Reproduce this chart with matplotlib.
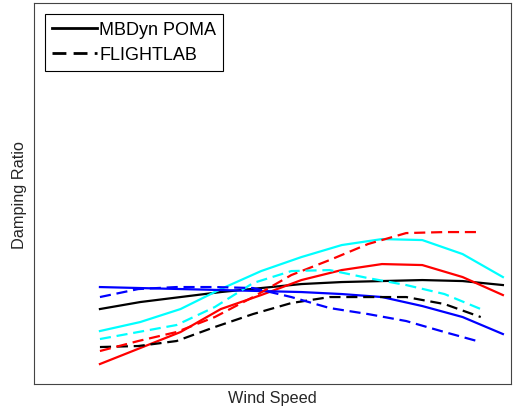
import numpy as np
import matplotlib
matplotlib.use("Agg")
import matplotlib.pyplot as plt

plt.rcParams['font.family'] = ['Liberation Sans', 'DejaVu Sans']

# wind speed points (arbitrary units, no ticks in the original)
ws_mbdyn = [4, 6, 8, 10, 12, 14, 16, 18, 20, 22, 24]
ws_flight = [4, 5.9, 7.8, 9.7, 11.6, 13.5, 15.4, 17.3, 19.2, 21.1, 22.9]

# MBDyn POMA (solid)
mb_black = [0.75, 0.82, 0.87, 0.92, 0.96, 1.00, 1.02, 1.03, 1.04, 1.03, 0.99]
mb_red = [0.20, 0.36, 0.52, 0.75, 0.89, 1.04, 1.14, 1.20, 1.19, 1.07, 0.89]
mb_cyan = [0.53, 0.62, 0.75, 0.95, 1.13, 1.27, 1.39, 1.45, 1.44, 1.30, 1.07]
mb_blue = [0.97, 0.96, 0.95, 0.94, 0.93, 0.92, 0.90, 0.87, 0.78, 0.67, 0.50]

# FLIGHTLAB (dashed)
fl_black = [0.37, 0.38, 0.43, 0.57, 0.70, 0.81, 0.87, 0.87, 0.87, 0.80, 0.67]
fl_red = [0.33, 0.43, 0.52, 0.67, 0.87, 1.09, 1.24, 1.40, 1.51, 1.52, 1.52]
fl_cyan = [0.45, 0.52, 0.59, 0.77, 1.01, 1.13, 1.14, 1.06, 0.99, 0.90, 0.75]
fl_blue = [0.87, 0.95, 0.97, 0.97, 0.96, 0.87, 0.76, 0.70, 0.63, 0.52, 0.42]


def main():
	fig = plt.figure(figsize=(5.13, 4.14), dpi=100)
	ax = fig.add_axes([0.066, 0.070, 0.930, 0.920])

	lw = 1.6
	dash = (0, (5, 2.6))

	#Curvas MBDyn (continuas)
	ax.plot(ws_mbdyn, mb_black, color='black', lw=lw, label='MBDyn POMA')
	ax.plot(ws_mbdyn, mb_red, color='red', lw=lw)
	ax.plot(ws_mbdyn, mb_cyan, color='cyan', lw=lw)
	ax.plot(ws_mbdyn, mb_blue, color='blue', lw=lw)

	#Curvas FLIGHTLAB (tracejadas)
	ax.plot(ws_flight, fl_black, color='black', lw=lw, ls=dash, label='FLIGHTLAB')
	ax.plot(ws_flight, fl_red, color='red', lw=lw, ls=dash)
	ax.plot(ws_flight, fl_cyan, color='cyan', lw=lw, ls=dash)
	ax.plot(ws_flight, fl_blue, color='blue', lw=lw, ls=dash)

	ax.set_xlim(0.72, 24.4)
	ax.set_ylim(0, 3.81)
	ax.set_xticks([])
	ax.set_yticks([])
	for s in ax.spines.values():
		s.set_color('#444444')
		s.set_linewidth(0.8)

	ax.set_xlabel('Wind Speed', fontsize=11.7, color='#262626', labelpad=4)
	ax.set_ylabel('Damping Ratio', fontsize=11.7, color='#262626', labelpad=5)

	leg = ax.legend(loc='upper left', fontsize=13, handlelength=2.5, handletextpad=0.12,
		borderpad=0.4, labelspacing=0.45, fancybox=False, framealpha=1,
		borderaxespad=0.6)
	leg.get_frame().set_edgecolor('black')
	leg.get_frame().set_linewidth(0.8)
	for l in leg.get_lines():
		l.set_linewidth(2.0)

	fig.savefig('out.png', dpi=100)


if __name__ == '__main__':
	main()
